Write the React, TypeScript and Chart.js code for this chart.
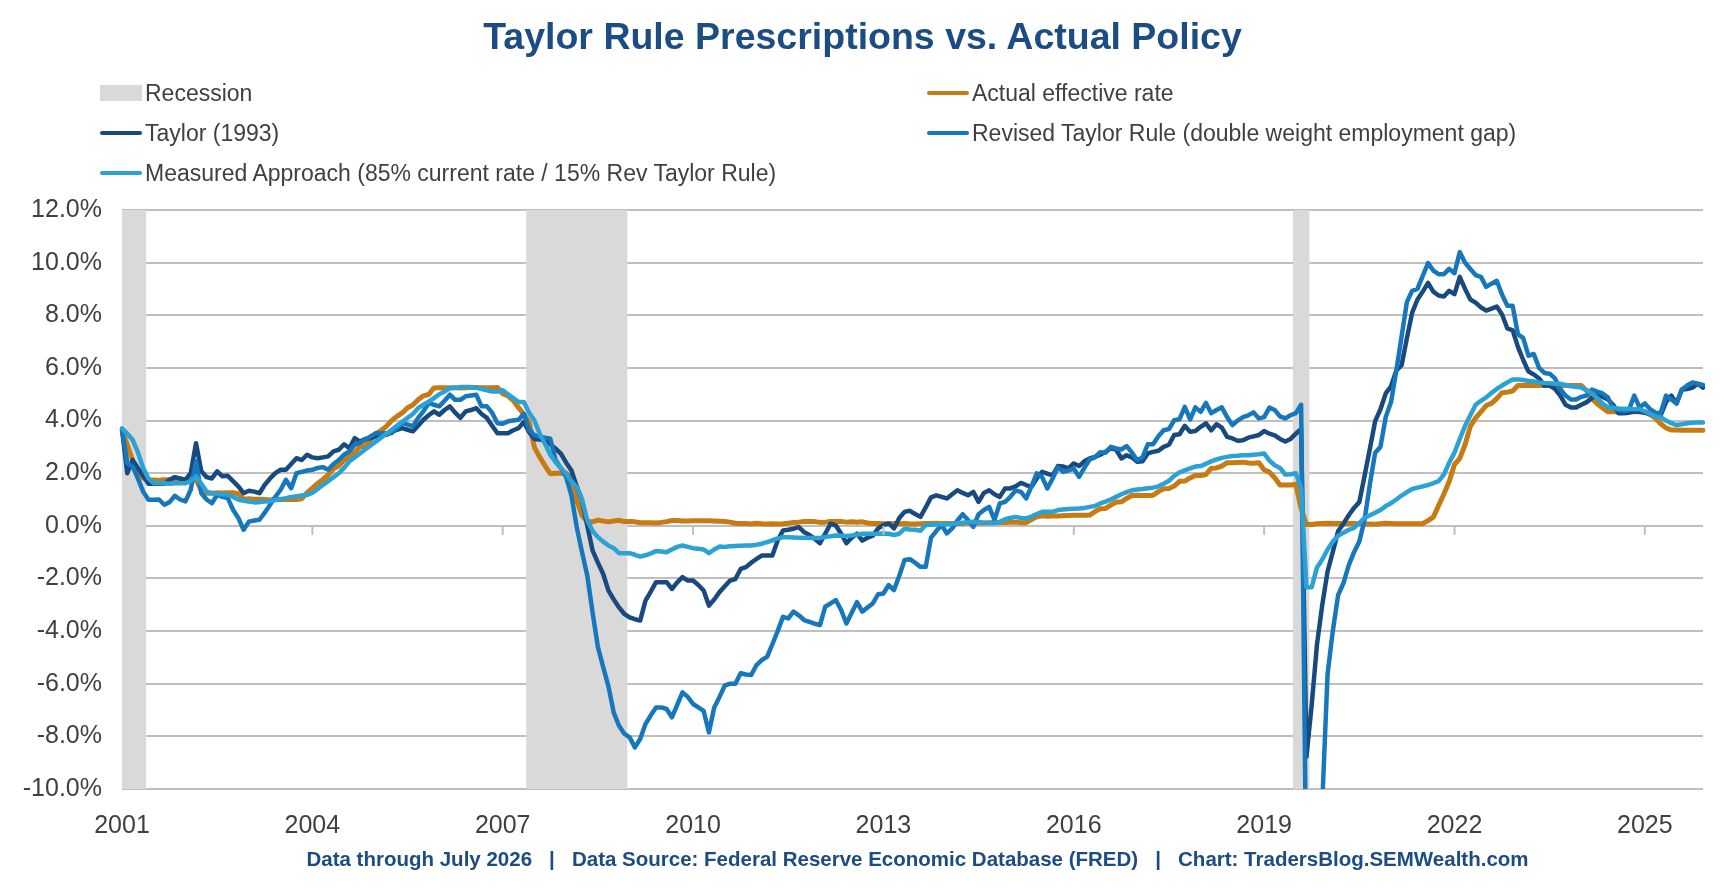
import React, { useEffect, useRef } from "react";
import { Chart, registerables } from "chart.js";
Chart.register(...registerables);

const YEAR_TICKS = ["2001", "2004", "2007", "2010", "2013", "2016", "2019", "2022", "2025"];
const START_YEAR = 2001;
const START_MONTH = 8;
const N_MONTHS = 300;
const MONTHS: string[] = [];
for (let i = 0; i < N_MONTHS; i++) {
  const m = START_MONTH - 1 + i;
  MONTHS.push(`${START_YEAR + Math.floor(m / 12)}-${String((m % 12) + 1).padStart(2, "0")}`);
}

const RECESSION_MONTHS = [
  "2001-08", "2001-09", "2001-10", "2001-11", "2001-12",
  "2008-01", "2008-02", "2008-03", "2008-04", "2008-05", "2008-06", "2008-07", "2008-08", "2008-09",
  "2008-10", "2008-11", "2008-12", "2009-01", "2009-02", "2009-03", "2009-04", "2009-05", "2009-06", "2009-07",
  "2020-02", "2020-03", "2020-04",
];

const ACTUAL = [
  3.65, 3.07, 2.49, 2.09, 1.82,
  1.73, 1.74, 1.73, 1.75, 1.75, 1.75, 1.73, 1.74, 1.75, 1.75, 1.34, 1.24,
  1.24, 1.26, 1.25, 1.26, 1.26, 1.22, 1.01, 1.03, 1.01, 1.01, 1.0, 0.98,
  1.0, 1.01, 1.0, 1.0, 1.0, 1.03, 1.26, 1.43, 1.61, 1.76, 1.93, 2.16,
  2.28, 2.5, 2.63, 2.79, 3.0, 3.04, 3.26, 3.5, 3.62, 3.78, 4.0, 4.16,
  4.29, 4.49, 4.59, 4.79, 4.94, 4.99, 5.24, 5.25, 5.25, 5.25, 5.25, 5.24,
  5.25, 5.26, 5.26, 5.25, 5.25, 5.25, 5.26, 5.02, 4.94, 4.76, 4.49, 4.24,
  3.94, 2.98, 2.61, 2.28, 1.98, 2.0, 2.01, 2.0, 1.81, 0.97, 0.39, 0.16,
  0.15, 0.22, 0.18, 0.15, 0.18, 0.21, 0.16, 0.16, 0.15, 0.12, 0.12, 0.12,
  0.11, 0.13, 0.16, 0.2, 0.2, 0.18, 0.18, 0.19, 0.19, 0.19, 0.19, 0.18,
  0.17, 0.16, 0.14, 0.1, 0.09, 0.09, 0.07, 0.1, 0.08, 0.07, 0.08, 0.07,
  0.08, 0.1, 0.13, 0.14, 0.16, 0.16, 0.16, 0.13, 0.14, 0.16, 0.16, 0.16,
  0.14, 0.15, 0.14, 0.15, 0.11, 0.09, 0.09, 0.08, 0.08, 0.09, 0.08, 0.09,
  0.07, 0.07, 0.08, 0.09, 0.09, 0.1, 0.09, 0.09, 0.09, 0.09, 0.09, 0.12,
  0.11, 0.11, 0.11, 0.12, 0.12, 0.13, 0.13, 0.14, 0.14, 0.12, 0.12, 0.24,
  0.34, 0.38, 0.36, 0.37, 0.37, 0.38, 0.39, 0.4, 0.4, 0.4, 0.41, 0.54,
  0.65, 0.66, 0.79, 0.9, 0.91, 1.04, 1.15, 1.16, 1.15, 1.15, 1.16, 1.3,
  1.41, 1.42, 1.51, 1.69, 1.7, 1.82, 1.91, 1.91, 1.95, 2.19, 2.2, 2.27,
  2.4, 2.4, 2.41, 2.42, 2.39, 2.38, 2.4, 2.13, 2.04, 1.83, 1.55, 1.55,
  1.55, 1.58, 0.65, 0.05, 0.05, 0.08, 0.09, 0.1, 0.09, 0.09, 0.09, 0.09,
  0.09, 0.08, 0.07, 0.07, 0.06, 0.08, 0.1, 0.09, 0.08, 0.08, 0.08, 0.08,
  0.08, 0.08, 0.2, 0.33, 0.77, 1.21, 1.68, 2.33, 2.56, 3.08, 3.78, 4.1,
  4.33, 4.57, 4.65, 4.83, 5.06, 5.08, 5.12, 5.33, 5.33, 5.33, 5.33, 5.33,
  5.33, 5.33, 5.33, 5.33, 5.33, 5.33, 5.33, 5.33, 5.13, 4.83, 4.64, 4.48,
  4.33, 4.33, 4.33, 4.33, 4.33, 4.33, 4.33, 4.33, 4.22, 4.09, 3.88, 3.72,
  3.64, 3.64, 3.63, 3.63, 3.63, 3.63, 3.63,
];

const TAYLOR = [
  3.65, 2.0, 2.5, 2.2, 1.9, 1.6, 1.6, 1.6, 1.6, 1.75, 1.85, 1.8,
  1.75, 2.0, 3.14, 2.07, 1.85, 1.8, 2.07, 1.88, 1.9, 1.7, 1.5, 1.24,
  1.33, 1.3, 1.24, 1.56, 1.8, 2.0, 2.13, 2.13, 2.35, 2.57, 2.5, 2.7,
  2.6, 2.57, 2.6, 2.64, 2.83, 2.89, 3.1, 2.95, 3.33, 3.2, 3.3, 3.33,
  3.4, 3.46, 3.46, 3.59, 3.65, 3.71, 3.65, 3.59, 3.8, 4.03, 4.2, 4.35,
  4.22, 4.4, 4.54, 4.3, 4.1, 4.35, 4.4, 4.47, 4.25, 4.1, 3.8, 3.52,
  3.52, 3.52, 3.63, 3.71, 3.95, 3.56, 3.3, 3.28, 3.24, 3.1, 2.93, 2.74,
  2.4, 2.1, 1.5, 0.96, 0.0, -0.94, -1.4, -1.83, -2.46, -2.8, -3.1, -3.35,
  -3.48, -3.55, -3.6, -2.84, -2.5, -2.14, -2.14, -2.14, -2.4, -2.15, -1.95, -2.08,
  -2.08, -2.25, -2.46, -3.03, -2.8, -2.52, -2.3, -2.08, -2.02, -1.64, -1.57, -1.4,
  -1.26, -1.13, -1.13, -1.13, -0.56, -0.18, -0.15, -0.11, -0.05, -0.24, -0.35, -0.49,
  -0.66, -0.3, 0.08, 0.01, -0.3, -0.66, -0.45, -0.3, -0.56, -0.45, -0.37, -0.1,
  0.03, 0.09, -0.1, 0.3, 0.53, 0.57, 0.45, 0.34, 0.7, 1.08, 1.16, 1.1,
  1.04, 1.2, 1.35, 1.25, 1.16, 1.29, 0.91, 1.25, 1.35, 1.2, 1.1, 1.42,
  1.42, 1.5, 1.63, 1.55, 1.48, 1.8, 2.05, 1.98, 1.92, 2.27, 2.25, 2.18,
  2.37, 2.27, 2.45, 2.56, 2.62, 2.7, 2.81, 2.94, 2.9, 2.56, 2.68, 2.6,
  2.43, 2.45, 2.75, 2.81, 2.85, 3.0, 3.08, 3.45, 3.48, 3.8, 3.57, 3.6,
  3.76, 3.89, 3.63, 3.86, 3.73, 3.38, 3.32, 3.23, 3.25, 3.35, 3.4, 3.45,
  3.6, 3.5, 3.44, 3.3, 3.2, 3.3, 3.5, 3.68, -8.78, -6.8, -4.5, -3.0,
  -1.73, -0.98, -0.2, 0.08, 0.4, 0.68, 0.9, 1.9, 2.93, 3.98, 4.43, 5.03,
  5.3, 5.9, 6.1, 7.13, 8.1, 8.6, 8.9, 9.23, 8.9, 8.75, 8.71, 8.93,
  8.8, 9.46, 9.0, 8.6, 8.48, 8.3, 8.18, 8.25, 8.33, 8.03, 7.5, 7.43,
  6.8, 6.3, 5.86, 5.75, 5.6, 5.33, 5.33, 5.2, 4.95, 4.6, 4.5, 4.5,
  4.6, 4.7, 4.85, 5.03, 4.9, 4.8, 4.6, 4.28, 4.28, 4.3, 4.35, 4.33,
  4.3, 4.25, 4.2, 4.2, 4.7, 4.95, 4.65, 5.18, 5.2, 5.25, 5.4, 5.25,
];

const REVISED = [
  3.65, 2.38, 2.26, 1.8, 1.3, 0.99, 0.99, 1.0, 0.8, 0.9, 1.14, 1.0,
  0.93, 1.37, 2.45, 1.24, 1.0, 0.86, 1.18, 1.1, 1.05, 0.61, 0.3, -0.15,
  0.16, 0.2, 0.23, 0.5, 0.8, 1.1, 1.37, 1.75, 1.43, 2.0, 2.05, 2.1,
  2.13, 2.2, 2.23, 2.13, 2.35, 2.5, 2.7, 2.83, 3.08, 3.15, 3.27, 3.4,
  3.52, 3.52, 3.52, 3.52, 3.7, 3.9, 3.85, 3.78, 4.1, 4.35, 4.66, 4.6,
  4.54, 4.75, 4.98, 4.79, 4.79, 4.92, 4.95, 4.98, 4.54, 4.54, 4.3, 3.9,
  3.88, 3.97, 4.0, 4.03, 4.26, 3.65, 3.44, 3.4, 3.35, 3.31, 2.5, 2.2,
  1.85, 1.15, -0.05, -1.0, -1.9, -3.3, -4.6, -5.37, -6.1, -7.1, -7.6, -7.9,
  -8.04, -8.42, -8.1, -7.53, -7.2, -6.9, -6.9, -6.96, -7.28, -6.8, -6.33, -6.5,
  -6.77, -6.9, -7.03, -7.85, -6.9, -6.5, -6.07, -6.0, -6.0, -5.6, -5.65, -5.67,
  -5.29, -5.1, -4.98, -4.5, -4.0, -3.46, -3.52, -3.26, -3.4, -3.58, -3.65, -3.72,
  -3.77, -3.07, -2.95, -2.82, -3.2, -3.71, -3.3, -2.9, -3.26, -3.1, -2.95, -2.6,
  -2.57, -2.25, -2.44, -1.9, -1.3, -1.27, -1.4, -1.56, -1.56, -0.45, -0.2, 0.03,
  -0.29, -0.1, 0.2, 0.44, 0.22, -0.04, 0.44, 0.6, 0.72, 0.22, 0.85, 0.91,
  1.1, 1.35, 1.29, 1.04, 1.5, 1.99, 1.86, 1.42, 1.8, 2.22, 2.05, 2.1,
  2.18, 1.86, 2.2, 2.52, 2.6, 2.8, 2.78, 3.0, 2.94, 2.9, 3.03, 2.78,
  2.49, 2.6, 3.1, 3.1, 3.4, 3.63, 3.68, 4.01, 4.05, 4.52, 4.04, 4.5,
  4.33, 4.67, 4.28, 4.4, 4.5, 4.13, 3.83, 4.0, 4.13, 4.2, 4.31, 4.08,
  4.13, 4.49, 4.4, 4.16, 4.08, 4.2, 4.28, 4.6, -14.0, -13.0, -12.0, -10.5,
  -5.63, -3.98, -2.63, -2.18, -1.5, -1.0, -0.6, 0.23, 1.58, 2.78, 3.0, 4.13,
  4.7, 5.9, 7.2, 8.5, 8.93, 9.0, 9.5, 9.98, 9.7, 9.56, 9.56, 9.76,
  9.6, 10.4, 10.0, 9.76, 9.53, 9.46, 9.08, 9.2, 9.31, 8.78, 8.36, 8.36,
  7.28, 7.13, 6.46, 6.53, 6.0, 5.81, 5.78, 5.6, 5.2, 4.95, 4.8, 4.8,
  4.9, 4.95, 5.18, 5.1, 5.03, 4.88, 4.46, 4.4, 4.35, 4.4, 4.95, 4.5,
  4.65, 4.43, 4.3, 4.28, 4.95, 4.8, 4.65, 5.18, 5.33, 5.45, 5.4, 5.35,
];

const MEASURED = [
  3.7, 3.5, 3.27, 2.8, 2.2, 1.8, 1.62, 1.62, 1.62, 1.6, 1.62, 1.62,
  1.62, 1.7, 1.88, 1.6, 1.3, 1.24, 1.22, 1.2, 1.18, 1.1, 1.0, 0.95,
  0.92, 0.89, 0.9, 0.92, 0.93, 0.98, 1.0, 1.05, 1.1, 1.12, 1.15, 1.18,
  1.25, 1.4, 1.55, 1.7, 1.85, 2.0, 2.2, 2.45, 2.6, 2.75, 2.9, 3.05,
  3.2, 3.35, 3.5, 3.65, 3.8, 3.95, 4.1, 4.25, 4.47, 4.6, 4.72, 4.85,
  5.0, 5.1, 5.23, 5.25, 5.27, 5.27, 5.27, 5.25, 5.2, 5.15, 5.1, 5.1,
  5.15, 5.0, 4.85, 4.7, 4.7, 4.3, 4.0, 3.5, 3.12, 2.7, 2.42, 2.2,
  1.98, 1.7, 1.47, 1.0, 0.2, -0.2, -0.43, -0.6, -0.75, -0.85, -1.04, -1.04,
  -1.04, -1.1, -1.17, -1.12, -1.05, -0.96, -0.98, -1.0, -0.9, -0.8, -0.75, -0.8,
  -0.85, -0.87, -0.9, -1.04, -0.9, -0.79, -0.8, -0.78, -0.77, -0.76, -0.75, -0.75,
  -0.72, -0.68, -0.62, -0.55, -0.48, -0.43, -0.43, -0.44, -0.45, -0.45, -0.46, -0.46,
  -0.46, -0.42, -0.4, -0.37, -0.38, -0.39, -0.37, -0.34, -0.3, -0.3, -0.3, -0.3,
  -0.29, -0.3, -0.35, -0.3, -0.11, -0.14, -0.15, -0.19, 0.03, 0.04, 0.05, 0.06,
  0.06, 0.08, 0.1, 0.12, 0.14, 0.15, 0.14, 0.12, 0.11, 0.11, 0.15, 0.25,
  0.3, 0.34, 0.3, 0.28, 0.35, 0.45, 0.53, 0.53, 0.53, 0.6, 0.62, 0.64,
  0.65, 0.66, 0.68, 0.72, 0.75, 0.85, 0.92, 1.0, 1.1, 1.2, 1.28, 1.35,
  1.38, 1.4, 1.43, 1.45, 1.5, 1.6, 1.71, 1.9, 2.03, 2.11, 2.18, 2.25,
  2.27, 2.36, 2.45, 2.52, 2.58, 2.62, 2.65, 2.66, 2.68, 2.68, 2.7, 2.72,
  2.75, 2.48, 2.3, 2.2, 1.95, 1.96, 2.0, 1.43, -2.33, -2.33, -1.58, -1.28,
  -0.9, -0.6, -0.38, -0.26, -0.15, -0.08, 0.1, 0.3, 0.4, 0.5, 0.6, 0.75,
  0.86, 1.0, 1.15, 1.28, 1.4, 1.45, 1.5, 1.55, 1.62, 1.7, 1.95, 2.4,
  2.78, 3.3, 3.8, 4.2, 4.6, 4.75, 4.88, 5.05, 5.2, 5.33, 5.45, 5.56,
  5.56, 5.54, 5.5, 5.48, 5.45, 5.43, 5.42, 5.4, 5.4, 5.35, 5.3, 5.28,
  5.25, 5.15, 5.03, 4.85, 4.65, 4.5, 4.48, 4.46, 4.45, 4.44, 4.43, 4.43,
  4.35, 4.25, 4.15, 4.13, 4.0, 3.9, 3.83, 3.86, 3.9, 3.92, 3.93, 3.93,
];

const C_ORANGE = "#c77b12";
const C_NAVY = "#184a80";
const C_REV = "#1677bd";
const C_MEAS = "#2aa2d6";
const C_REC = "#d9d9d9";
const C_TITLE = "#1b4c84";
const FONT = "'Liberation Sans', Arial, sans-serif";

const yearTickPlugin = {
  id: "yearTicks",
  afterDatasetsDraw(chart: any) {
    const { ctx, scales } = chart;
    const x = scales.x, y = scales.y;
    const y0 = y.getPixelForValue(0);
    ctx.save();
    ctx.strokeStyle = "#bfbfbf";
    ctx.lineWidth = 2;
    for (let i = 36; i < MONTHS.length; i += 36) {
      const px = x.getPixelForValue(i);
      ctx.beginPath();
      ctx.moveTo(px, y0);
      ctx.lineTo(px, y0 + 9);
      ctx.stroke();
    }
    ctx.restore();
  },
};

function LegendItem({ x, y, color, label, rect }: any) {
  return (
    <div style={{ position: "absolute", left: x, top: y - 14, height: 28, display: "flex", alignItems: "center" }}>
      <div style={{ width: 42, height: rect ? 16 : 4.5, background: color, marginRight: 3, borderRadius: rect ? 0 : 2 }} />
      <span style={{ fontFamily: FONT, fontSize: 23, color: "#404040", whiteSpace: "nowrap" }}>{label}</span>
    </div>
  );
}

export default function App() {
  const ref = useRef<HTMLCanvasElement>(null);
  useEffect(() => {
    const recession = MONTHS.map((m) => (RECESSION_MONTHS.includes(m) ? [-10, 12] : null));
    const chart = new Chart(ref.current!, {
      data: {
        labels: MONTHS,
        datasets: [
          { type: "line", label: "Measured", data: MEASURED, borderColor: C_MEAS, borderWidth: 4.5, pointRadius: 0, order: 1 },
          { type: "line", label: "Revised", data: REVISED, borderColor: C_REV, borderWidth: 4.5, pointRadius: 0, order: 2 },
          { type: "line", label: "Taylor", data: TAYLOR, borderColor: C_NAVY, borderWidth: 4.5, pointRadius: 0, order: 3 },
          { type: "line", label: "Actual", data: ACTUAL, borderColor: C_ORANGE, borderWidth: 5, pointRadius: 0, order: 4 },
          {
            type: "bar", label: "Recession", data: recession as any, backgroundColor: C_REC,
            barPercentage: 1, categoryPercentage: 1, borderWidth: 0, order: 10,
          },
        ],
      } as any,
      options: {
        animation: false,
        responsive: false,
        maintainAspectRatio: false,
        layout: { padding: { top: 210, right: 22, left: 0, bottom: 48 } },
        plugins: { legend: { display: false }, tooltip: { enabled: false }, title: { display: false } },
        elements: { line: { tension: 0, borderJoinStyle: "round", borderCapStyle: "round" } },
        scales: {
          x: {
            offset: false,
            grid: { display: false },
            border: { display: false },
            ticks: {
              autoSkip: false,
              maxRotation: 0,
              padding: 14,
              color: "#404040",
              font: { family: FONT, size: 25 },
              callback: (_v: any, i: number) => (i % 36 === 0 ? YEAR_TICKS[i / 36] : null),
            },
            afterFit: (s: any) => { s.height = 55; },
          },
          y: {
            min: -10,
            max: 12,
            grid: {
              drawTicks: false,
              lineWidth: 2,
              color: (c: any) => (Math.round(c.tick.value) % 2 === 0 ? "#bfbfbf" : "#d9d9d9"),
            },
            border: { display: false },
            ticks: {
              stepSize: 1,
              padding: 20,
              color: "#404040",
              font: { family: FONT, size: 25 },
              callback: (v: any) => (Math.round(v) % 2 === 0 ? `${Number(v).toFixed(1)}%` : ""),
            },
            afterFit: (s: any) => { s.width = 122; },
          },
        },
      },
      plugins: [yearTickPlugin],
    });
    return () => chart.destroy();
  }, []);

  return (
    <div style={{ position: "absolute", left: 0, top: 0, width: 1725, height: 892, background: "#fff", overflow: "hidden" }}>
      <canvas ref={ref} width={1725} height={892} style={{ position: "absolute", left: 0, top: 0, width: 1725, height: 892 }} />
      <div style={{ position: "absolute", left: 0, top: 15, width: 1725, textAlign: "center", fontFamily: FONT, fontWeight: "bold", fontSize: 37.5, color: C_TITLE }}>
        Taylor Rule Prescriptions vs. Actual Policy
      </div>
      <LegendItem x={100} y={93} color={C_REC} rect label="Recession" />
      <LegendItem x={100} y={133} color={C_NAVY} label="Taylor (1993)" />
      <LegendItem x={100} y={173} color={C_MEAS} label="Measured Approach (85% current rate / 15% Rev Taylor Rule)" />
      <LegendItem x={927} y={93} color={C_ORANGE} label="Actual effective rate" />
      <LegendItem x={927} y={133} color={C_REV} label="Revised Taylor Rule (double weight employment gap)" />
      <div style={{ position: "absolute", left: 55, top: 847, width: 1725, textAlign: "center", fontFamily: FONT, fontWeight: "bold", fontSize: 20.5, color: C_TITLE, whiteSpace: "pre" }}>
        {"Data through July 2026   |   Data Source: Federal Reserve Economic Database (FRED)   |   Chart: TradersBlog.SEMWealth.com"}
      </div>
    </div>
  );
}
